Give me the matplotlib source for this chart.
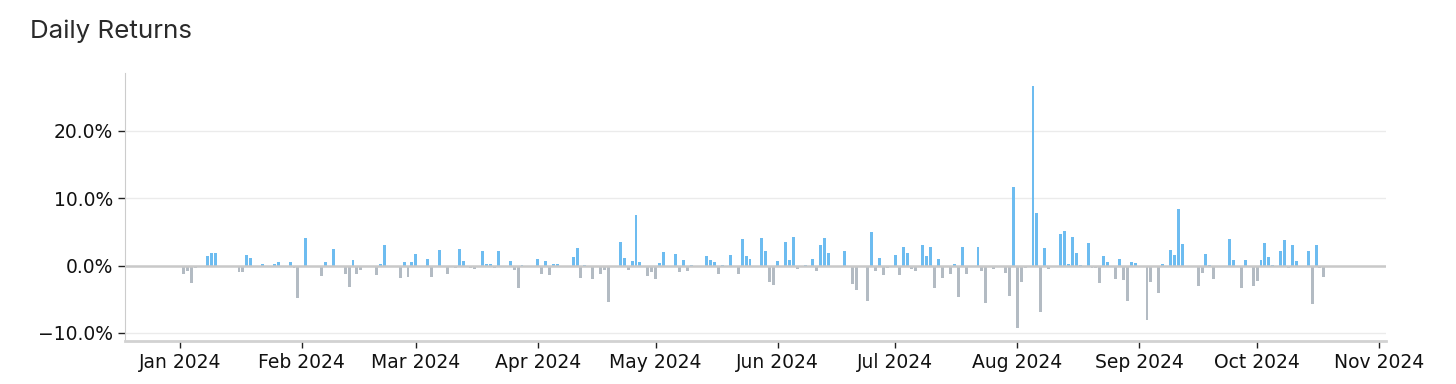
import pandas as pd
import matplotlib
matplotlib.use('Agg')
import matplotlib.pyplot as plt
import matplotlib.dates as mdates
from matplotlib.ticker import PercentFormatter

# daily returns in %, one entry per calendar day (0 = no visible bar)
jan = [0, -1.3, -0.8, -2.6, -0.4, 0, 0, 1.4, 1.8, 1.8, -0.2, -0.1, 0, 0, 0, -0.9,
       -0.9, 1.6, 1.2, 0, 0, 0.3, 0, 0, 0.2, 0.6, 0, 0, 0.6, -0.4, -4.8]
feb = [0, 4.1, 0, 0, 0, -1.6, 0.5, 0, 2.4, 0, 0, -1.3, -3.2, 0.8, -1.2, -0.6,
       0, 0, 0, -1.4, 0.3, 3.0, 0, 0, 0, -1.8, 0.5, -1.7, 0.5]
mar = [1.7, 0, 0, 1.0, -1.7, 0, 2.3, 0, -1.3, 0, -0.3, 2.4, 0.7, 0, -0.4, -0.5,
       0, 2.1, 0.2, 0.3, -0.4, 2.2, 0, 0, 0.7, -0.6, -3.4, 0.1, 0, 0, 0]
apr = [1.0, -1.2, 0.7, -1.4, 0.2, 0.2, 0, 0, 0, 1.3, 2.6, -1.8, 0.1, 0, -2.0,
       0, -1.2, -0.7, -5.4, -0.1, 0, 3.5, 1.1, -0.6, 0.7, 7.5, 0.6, 0, -1.6, -1.0]
may = [-2.0, 0.4, 2.0, 0, 0, 1.7, -1.0, 0.8, -0.8, 0.1, 0, 0, -0.1, 1.4, 0.9, 0.5,
       -1.2, 0.1, 0, 1.5, 0, -1.2, 4.0, 1.4, 1.0, 0, 0, 4.1, 2.1, -2.4, -2.9]
jun = [0.7, 0, 3.5, 0.9, 4.2, -0.5, 0, 0.1, 0, 1.0, -0.8, 3.1, 4.1, 1.8, 0, 0,
       0, 2.2, 0, -2.7, -3.7, 0, 0, -5.2, 5.0, -0.8, 1.1, -1.4, -0.3, 0]
jul = [1.5, -1.4, 2.7, 1.8, -0.5, -0.8, 0, 3.1, 1.4, 2.7, -3.4, 1.0, -1.8, 0, -1.3,
       0.2, -4.7, 2.7, -1.2, 0, 0, 2.8, -0.8, -5.6, 0, -0.5, 0, 0, -1.1, -4.5, 11.7]
aug = [-9.2, -2.5, -0.3, 0, 26.6, 7.8, -6.9, 2.6, -0.5, -0.2, 0, 4.7, 5.1, 0.3, 4.3,
       1.9, 0.1, 0, 3.3, -0.4, -0.4, -2.6, 1.4, 0.6, 0, -2.0, 1.0, -2.1, -5.3, 0.5, 0.4]
sep = [0, 0, -8.1, -2.4, 0, -4.0, 0.2, 0, 2.3, 1.5, 8.4, 3.2, -0.2, 0, 0, -3.0,
       -1.1, 1.7, 0.1, -2.0, 0, 0, 0, 4.0, 0.8, 0, -3.3, 0.9, 0, -3.0]
oct_ = [-2.3, 0.8, 3.3, 1.3, 0.1, 0, 2.2, 3.8, -0.3, 3.1, 0.7, 0, 0, 2.2, -5.7,
        3.0, -0.4, -1.7]

returns = jan + feb + mar + apr + may + jun + jul + aug + sep + oct_
dates = pd.date_range('2024-01-01', periods=len(returns), freq='D')

pos_color = '#6dbcf0'
neg_color = '#b3bbc3'
colors = [pos_color if r >= 0 else neg_color for r in returns]

fig = plt.figure(figsize=(14.56, 3.84), dpi=100)
ax = fig.add_axes([125 / 1456, 1 - 341 / 384, (1386 - 125) / 1456, (341 - 73) / 384])

ax.bar(dates, returns, width=0.75, color=colors, linewidth=0, zorder=2)
ax.axhline(0, color='#c9c9c9', lw=1.8, zorder=3)

start = mdates.date2num(pd.Timestamp('2024-01-01'))
ax.set_xlim(start - 14, start + 306.8)
ax.set_ylim(-11.2, 28.6)

ax.xaxis.set_major_locator(mdates.MonthLocator())
ax.xaxis.set_major_formatter(mdates.DateFormatter('%b %Y'))
ax.set_yticks([-10, 0, 10, 20])
ax.yaxis.set_major_formatter(PercentFormatter(xmax=100, decimals=1))

ax.yaxis.grid(True, color='#ebebeb', lw=1)
ax.set_axisbelow(True)
for s in ['top', 'right']:
    ax.spines[s].set_visible(False)
ax.spines['left'].set_color('#cccccc')
ax.spines['bottom'].set_color('#d2d2d2')
ax.spines['bottom'].set_linewidth(2)
ax.tick_params(axis='both', labelsize=13.5, length=5, width=1, color='#222222', labelcolor='#111111')

fig.text(30 / 1456, 1 - 31 / 384, 'Daily Returns', fontsize=18.7, family='Inter',
         color='#2a2a2a', va='center', ha='left')

fig.savefig('out.png', dpi=100)
